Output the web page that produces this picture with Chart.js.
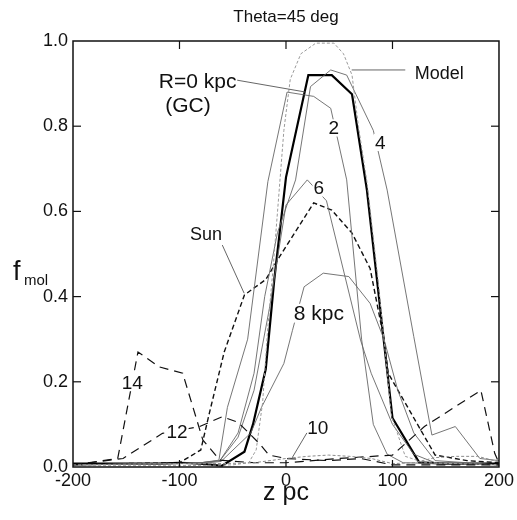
<!DOCTYPE html>
<html><head><meta charset="utf-8">
<script src="https://cdn.jsdelivr.net/npm/chart.js@4"></script>
<style>html,body{margin:0;padding:0;background:#fff}#wrap{width:517px;height:520px}</style>
</head><body><div id="wrap"><canvas id="c" width="517" height="520"></canvas></div>
<script>
// ---- data (z in pc, f_mol) ----
const xTicks = [-200, -100, 0, 100, 200];
const yTicks = [0, 0.2, 0.4, 0.6, 0.8, 1.0];

const r0X = [-200,-160,-120,-100,-80,-60,-39,-31,-19,-11,0,21,43,62,76,100,125,150,200];
const r0Y = [0.008,0.008,0.008,0.01,0.008,0.003,0.036,0.10,0.23,0.44,0.68,0.92,0.92,0.875,0.65,0.115,0.011,0.008,0.008];

const r2X = [-200,-100,-80,-63,-55,-36,-17,1,26,42,57,71,82,95,110,200];
const r2Y = [0.005,0.008,0.01,0.016,0.14,0.3,0.67,0.88,0.87,0.842,0.674,0.3,0.1,0.03,0.01,0.005];

const r4X = [-200,-100,-80,-62,-45,-30,-20,-8,9,23,42,57,82,95,120,137,159,182,200];
const r4Y = [0.005,0.008,0.01,0.015,0.08,0.22,0.40,0.55,0.674,0.893,0.932,0.92,0.79,0.65,0.306,0.075,0.095,0.02,0.015];

const r6X = [-200,-100,-80,-62,-45,-30,-15,0,20,38,70,80,100,120,140,200];
const r6Y = [0.005,0.008,0.01,0.015,0.07,0.18,0.38,0.615,0.674,0.625,0.298,0.22,0.1,0.03,0.01,0.005];

const r8X = [-200,-100,-80,-61,-33,-23,-2,6,17,35,59,79,92,105,120,140,200];
const r8Y = [0.005,0.008,0.008,0.013,0.08,0.14,0.243,0.32,0.423,0.455,0.447,0.384,0.3,0.18,0.08,0.015,0.005];

const r10X = [-200,-100,-60,-30,0,20,40,60,80,100,120,140,160,180,200];
const r10Y = [0.005,0.008,0.008,0.01,0.02,0.025,0.028,0.025,0.02,0.008,0.01,0.022,0.025,0.025,0.012];

const r12X = [-200,-153,-116,-81,-60,-45,-25,-16,0,40,70,100,140,200];
const r12Y = [0.005,0.02,0.079,0.095,0.118,0.105,0.055,0.028,0.02,0.015,0.02,0.005,0.005,0.005];

const r14X = [-200,-158,-139,-119,-97,-78,-62,-30,0,50,100,130,183,196,200];
const r14Y = [0.005,0.02,0.27,0.235,0.22,0.063,0.016,0.01,0.01,0.02,0.028,0.095,0.18,0.032,0.01];

const sunX = [-200,-150,-100,-80,-72,-58,-39,-19,-6,26,43,62,79,92,96,140,170,200];
const sunY = [0.005,0.008,0.01,0.04,0.126,0.27,0.404,0.44,0.494,0.62,0.603,0.549,0.466,0.3,0.22,0.028,0.015,0.01];

const modelX = [-200,-100,-50,-35,-28,-22,-17,-12,-7,-2,4,14,28,45,54,62,68,76,86,92,99,112,130,200];
const modelY = [0.003,0.003,0.005,0.01,0.04,0.15,0.33,0.47,0.63,0.79,0.91,0.97,0.995,0.995,0.97,0.92,0.8,0.67,0.45,0.3,0.12,0.025,0.01,0.005];

// annotation labels (data coordinates)
const labelText = ["R=0 kpc","(GC)","Model","2","4","6","Sun","8 kpc","14","12","10"];
const labelX    = [-83, -92, 144, 44.9, 88.5, 30.8, -75.2, 30.8, -144.4, -102.3, 29.9];
const labelY    = [0.906, 0.85, 0.925, 0.796, 0.762, 0.655, 0.548, 0.361, 0.198, 0.083, 0.091];
const labelBox  = [false,false,false,true,true,true,false,true,true,true,false];
const labelSize = [21,21,18,19,19,19,18,21,19,19,19];
// pointer lines (data coordinates)
const ptrX1 = [-45.8, 61.7, -59.8, 19.6];
const ptrY1 = [0.908, 0.932, 0.521, 0.08];
const ptrX2 = [18.7, 112, -39.3, 5.6];
const ptrY2 = [0.88, 0.932, 0.408, 0.021];

const FONT = '"Liberation Sans", Arial, Helvetica, sans-serif';
const pts = (xs, ys) => xs.map((x, i) => ({x, y: ys[i]}));

function ds(xs, ys, color, width, dash) {
  return {data: pts(xs, ys), borderColor: color, borderWidth: width, borderDash: dash || [],
    showLine: true, pointRadius: 0, fill: false, tension: 0};
}

const datasets = [
  ds(r10X, r10Y, '#8a8a8a', 1, [3,2]),
  ds(r12X, r12Y, '#111', 1.2, [9,6]),
  ds(r14X, r14Y, '#111', 1.2, [9,6]),
  ds(modelX, modelY, '#9a9a9a', 1, [3,2]),
  ds(r8X, r8Y, '#666', 0.9),
  ds(r6X, r6Y, '#666', 0.9),
  ds(r4X, r4Y, '#666', 0.9),
  ds(r2X, r2Y, '#666', 0.9),
  ds(sunX, sunY, '#111', 1.4, [5,3]),
  ds(r0X, r0Y, '#000', 2.2),
];

const deco = {
  id: 'deco',
  afterDatasetsDraw(chart) {
    const ctx = chart.ctx, xs = chart.scales.x, ys = chart.scales.y;
    ctx.save();
    ctx.strokeStyle = '#555'; ctx.lineWidth = 0.9; ctx.setLineDash([]);
    for (let i = 0; i < ptrX1.length; i++) {
      ctx.beginPath();
      ctx.moveTo(xs.getPixelForValue(ptrX1[i]), ys.getPixelForValue(ptrY1[i]));
      ctx.lineTo(xs.getPixelForValue(ptrX2[i]), ys.getPixelForValue(ptrY2[i]));
      ctx.stroke();
    }
    ctx.textAlign = 'center'; ctx.textBaseline = 'middle';
    for (let i = 0; i < labelText.length; i++) {
      const px = xs.getPixelForValue(labelX[i]), py = ys.getPixelForValue(labelY[i]);
      ctx.font = labelSize[i] + 'px ' + FONT;
      if (labelBox[i]) {
        const w = ctx.measureText(labelText[i]).width;
        const h = labelSize[i] * 0.8;
        ctx.fillStyle = '#fff';
        ctx.fillRect(px - w/2 - 1, py - h/2 - 1, w + 2, h + 2);
      }
      ctx.fillStyle = '#111';
      ctx.fillText(labelText[i], px, py + 1);
    }
    ctx.restore();
  },
  afterDraw(chart) {
    const ctx = chart.ctx, a = chart.chartArea, xs = chart.scales.x, ys = chart.scales.y;
    ctx.save();
    ctx.strokeStyle = '#111'; ctx.lineWidth = 1.5; ctx.setLineDash([]);
    ctx.strokeRect(a.left, a.top, a.right - a.left, a.bottom - a.top);
    ctx.lineWidth = 1.2;
    xTicks.slice(1, -1).forEach(v => {
      const p = xs.getPixelForValue(v);
      ctx.beginPath(); ctx.moveTo(p, a.bottom); ctx.lineTo(p, a.bottom - 7); ctx.stroke();
      ctx.beginPath(); ctx.moveTo(p, a.top); ctx.lineTo(p, a.top + 8); ctx.stroke();
    });
    yTicks.slice(1, -1).forEach(v => {
      const p = ys.getPixelForValue(v);
      ctx.beginPath(); ctx.moveTo(a.left, p); ctx.lineTo(a.left + 8, p); ctx.stroke();
      ctx.beginPath(); ctx.moveTo(a.right, p); ctx.lineTo(a.right - 8, p); ctx.stroke();
    });
    ctx.fillStyle = '#111';
    ctx.textAlign = 'center'; ctx.textBaseline = 'alphabetic';
    ctx.font = '17px ' + FONT;
    ctx.fillText('Theta=45 deg', (a.left + a.right) / 2, 22);
    ctx.font = '25px ' + FONT;
    ctx.fillText('z pc', (a.left + a.right) / 2, 500);
    ctx.textAlign = 'left';
    ctx.font = '27px ' + FONT;
    ctx.fillText('f', 13, 280);
    ctx.font = '15px ' + FONT;
    ctx.fillText('mol', 24, 285);
    ctx.restore();
  }
};

new Chart(document.getElementById('c'), {
  type: 'scatter',
  data: {datasets},
  options: {
    responsive: false, animation: false, devicePixelRatio: 1,
    layout: {padding: {left: 0, right: 16, top: 41, bottom: 0}},
    plugins: {legend: {display: false}, tooltip: {enabled: false}, title: {display: false}},
    scales: {
      x: {type: 'linear', min: -200, max: 200,
        afterBuildTicks: s => { s.ticks = xTicks.map(v => ({value: v})); },
        afterFit: s => { s.height = 53; },
        grid: {display: false, drawTicks: false}, border: {display: false},
        ticks: {padding: 3, color: '#111', font: {size: 18, family: FONT}, maxRotation: 0, autoSkip: false}},
      y: {type: 'linear', min: 0, max: 1,
        afterBuildTicks: s => { s.ticks = yTicks.map(v => ({value: v})); },
        afterFit: s => { s.width = 73; },
        grid: {display: false, drawTicks: false}, border: {display: false},
        ticks: {padding: 5, color: '#111', font: {size: 18, family: FONT}, callback: v => v.toFixed(1)}}
    }
  },
  plugins: [deco]
});
</script></body></html>
